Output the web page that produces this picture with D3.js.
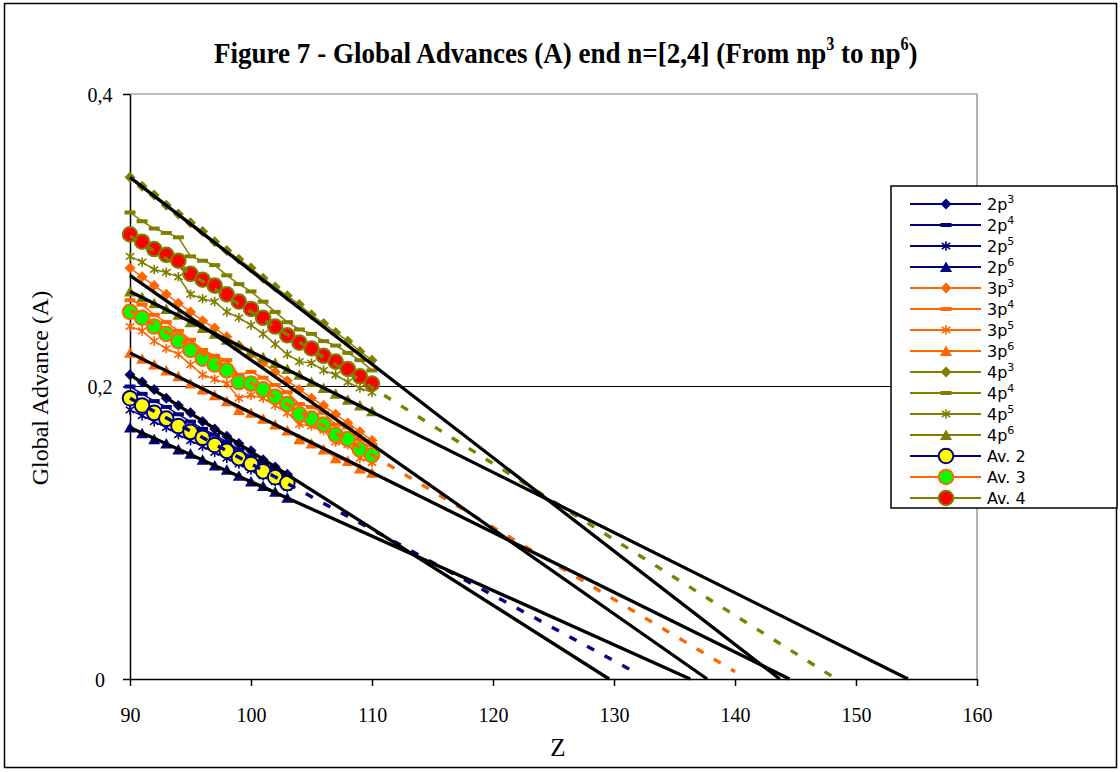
<!DOCTYPE html>
<html>
<head>
<meta charset="utf-8">
<script src="https://cdn.jsdelivr.net/npm/d3@7"></script>
<style>
  body { margin: 0; background: #fff; }
  svg { display: block; }
</style>
</head>
<body>
<svg id="chart" width="1120" height="772"></svg>
<script>
// ---- axis ticks ----
const zTicks = [90, 100, 110, 120, 130, 140, 150, 160];
const aTicks = [0, 0.2, 0.4];
const aTickLabels = ["0", "0,2", "0,4"];

// ---- Z values ----
const zN2 = [90, 91, 92, 93, 94, 95, 96, 97, 98, 99, 100, 101, 102, 103];
const zN34 = [90, 91, 92, 93, 94, 95, 96, 97, 98, 99, 100, 101, 102, 103, 104, 105, 106, 107, 108, 109, 110];

// ---- global advance, n = 2 ----
const n2p3 = [0.208, 0.203, 0.198, 0.192, 0.187, 0.182, 0.176, 0.171, 0.166, 0.161, 0.156, 0.150, 0.145, 0.140];
const n2p4 = [0.200, 0.195, 0.190, 0.186, 0.181, 0.176, 0.171, 0.167, 0.162, 0.157, 0.152, 0.148, 0.143, 0.138];
const n2p5 = [0.184, 0.180, 0.176, 0.172, 0.167, 0.163, 0.159, 0.155, 0.151, 0.147, 0.143, 0.139, 0.135, 0.131];
const n2p6 = [0.172, 0.168, 0.164, 0.161, 0.157, 0.154, 0.150, 0.146, 0.143, 0.139, 0.135, 0.132, 0.128, 0.124];
const av2  = [0.192, 0.187, 0.182, 0.178, 0.173, 0.169, 0.165, 0.160, 0.156, 0.151, 0.147, 0.142, 0.138, 0.134];

// ---- global advance, n = 3 ----
const n3p3 = [0.281, 0.275, 0.269, 0.263, 0.257, 0.251, 0.245, 0.240, 0.234, 0.228, 0.222, 0.216, 0.210, 0.204, 0.198, 0.192, 0.187, 0.181, 0.175, 0.169, 0.163];
const n3p4 = [0.259, 0.256, 0.249, 0.244, 0.238, 0.232, 0.225, 0.221, 0.218, 0.208, 0.210, 0.206, 0.201, 0.196, 0.188, 0.186, 0.182, 0.174, 0.172, 0.164, 0.160];
const n3p5 = [0.241, 0.238, 0.231, 0.226, 0.222, 0.215, 0.208, 0.205, 0.202, 0.192, 0.194, 0.192, 0.187, 0.182, 0.174, 0.173, 0.170, 0.162, 0.160, 0.151, 0.148];
const n3p6 = [0.223, 0.219, 0.215, 0.211, 0.207, 0.202, 0.198, 0.194, 0.190, 0.184, 0.182, 0.178, 0.174, 0.170, 0.164, 0.161, 0.157, 0.151, 0.149, 0.144, 0.141];
const av3  = [0.251, 0.247, 0.241, 0.236, 0.231, 0.225, 0.219, 0.215, 0.211, 0.203, 0.202, 0.198, 0.193, 0.188, 0.181, 0.178, 0.174, 0.167, 0.164, 0.157, 0.153];

// ---- global advance, n = 4 ----
const n4p3 = [0.343, 0.337, 0.331, 0.324, 0.318, 0.312, 0.306, 0.299, 0.293, 0.287, 0.281, 0.274, 0.268, 0.262, 0.256, 0.249, 0.243, 0.237, 0.231, 0.224, 0.218];
const n4p4 = [0.319, 0.313, 0.308, 0.305, 0.302, 0.289, 0.286, 0.283, 0.276, 0.270, 0.265, 0.258, 0.251, 0.244, 0.239, 0.236, 0.231, 0.228, 0.223, 0.218, 0.211];
const n4p5 = [0.289, 0.285, 0.280, 0.278, 0.275, 0.263, 0.260, 0.258, 0.251, 0.247, 0.242, 0.236, 0.229, 0.222, 0.217, 0.216, 0.211, 0.208, 0.203, 0.199, 0.196];
const n4p6 = [0.265, 0.261, 0.257, 0.253, 0.249, 0.244, 0.240, 0.236, 0.232, 0.228, 0.224, 0.220, 0.216, 0.212, 0.208, 0.203, 0.199, 0.195, 0.191, 0.187, 0.183];
const av4  = [0.304, 0.299, 0.294, 0.290, 0.286, 0.277, 0.273, 0.269, 0.263, 0.258, 0.253, 0.247, 0.241, 0.235, 0.230, 0.226, 0.221, 0.217, 0.212, 0.207, 0.202];

// ---- linear trends of the p3 / p6 series (black), value at Z=90 and Z where A reaches 0 ----
const blackTrendAt90 = [0.208, 0.172, 0.276, 0.223, 0.343, 0.265];
const blackTrendZeroZ = [129.6, 136.3, 137.7, 144.5, 143.7, 154.3];

// ---- linear trends of the averages (dashed), value at Z=90, slope and forecast end ----
const avgTrendAt90 = [0.192, 0.252, 0.303];
const avgTrendSlope = [-0.00449, -0.00494, -0.00519];
const avgTrendEndZ = [132, 140, 148];

const navy = "#000080", orange = "#FF6600", olive = "#808000";

const series = [
  { n: "2", p: "3", z: zN2, v: n2p3, color: navy, mk: "diamond" },
  { n: "2", p: "4", z: zN2, v: n2p4, color: navy, mk: "dash" },
  { n: "2", p: "5", z: zN2, v: n2p5, color: navy, mk: "star" },
  { n: "2", p: "6", z: zN2, v: n2p6, color: navy, mk: "triangle" },
  { n: "3", p: "3", z: zN34, v: n3p3, color: orange, mk: "diamond" },
  { n: "3", p: "4", z: zN34, v: n3p4, color: orange, mk: "dash" },
  { n: "3", p: "5", z: zN34, v: n3p5, color: orange, mk: "star" },
  { n: "3", p: "6", z: zN34, v: n3p6, color: orange, mk: "triangle" },
  { n: "4", p: "3", z: zN34, v: n4p3, color: olive, mk: "diamond" },
  { n: "4", p: "4", z: zN34, v: n4p4, color: olive, mk: "dash" },
  { n: "4", p: "5", z: zN34, v: n4p5, color: olive, mk: "star" },
  { n: "4", p: "6", z: zN34, v: n4p6, color: olive, mk: "triangle" },
  { label: "Av. 2", z: zN2, v: av2, color: navy, mk: "circle", fill: "#FFFF00" },
  { label: "Av. 3", z: zN34, v: av3, color: orange, mk: "circle", fill: "#00FF00" },
  { label: "Av. 4", z: zN34, v: av4, color: olive, mk: "circle", fill: "#FF0000" }
];
const avgColors = [navy, orange, olive];

// ---- scales ----
const x = d3.scaleLinear().domain([90, 160]).range([130, 977]);
const y = d3.scaleLinear().domain([0, 0.4]).range([679, 94]);

const svg = d3.select("#chart");
const serif = "'Liberation Serif', 'Times New Roman', serif";
const sans = "'DejaVu Sans', Verdana, sans-serif";

// chart border
svg.append("rect")
  .attr("x", 4.5).attr("y", 3.5).attr("width", 1112).attr("height", 764)
  .attr("fill", "#fff").attr("stroke", "#000").attr("stroke-width", 1.5);

// plot frame and gridline
const frame = svg.append("g");
frame.append("line")
  .attr("x1", x(90)).attr("x2", x(160)).attr("y1", y(0.4)).attr("y2", y(0.4))
  .attr("stroke", "#808080").attr("stroke-width", 1.2);
frame.append("line")
  .attr("x1", x(160)).attr("x2", x(160)).attr("y1", y(0.4)).attr("y2", y(0))
  .attr("stroke", "#808080").attr("stroke-width", 1.2);
frame.append("line")
  .attr("x1", x(90)).attr("x2", x(160)).attr("y1", y(0.2)).attr("y2", y(0.2))
  .attr("stroke", "#000").attr("stroke-width", 1);

// axes
const xAxis = svg.append("g")
  .attr("transform", `translate(0,${y(0)})`)
  .call(d3.axisBottom(x).tickValues(zTicks).tickSize(7).tickSizeOuter(0).tickPadding(22));
const yAxis = svg.append("g")
  .attr("transform", `translate(${x(90)},0)`)
  .call(d3.axisLeft(y).tickValues(aTicks).tickFormat((d, i) => aTickLabels[i]).tickSize(7).tickSizeOuter(0));
[xAxis, yAxis].forEach(a => {
  a.selectAll("path.domain").attr("stroke", "#000").attr("stroke-width", 1.5);
  a.selectAll(".tick line").attr("stroke", "#000").attr("stroke-width", 1.5);
  a.selectAll(".tick text").attr("font-family", serif).attr("font-size", 20).attr("fill", "#000");
});
yAxis.selectAll(".tick text").attr("text-anchor", "middle").attr("x", -30).attr("dy", "0.35em");

// markers
function drawMarker(parent, type, color, fill, cx, cy) {
  const m = parent.append("g").attr("transform", `translate(${cx},${cy})`);
  if (type === "diamond") {
    m.append("path").attr("d", "M0,-5.5L5.5,0L0,5.5L-5.5,0Z").attr("fill", color);
  } else if (type === "dash") {
    m.append("rect").attr("x", -5.5).attr("y", -2).attr("width", 11).attr("height", 4).attr("fill", color);
  } else if (type === "star") {
    m.append("path").attr("d", "M0,-4.8V4.8M-4.2,-3.2L4.2,3.2M-4.2,3.2L4.2,-3.2")
      .attr("stroke", color).attr("stroke-width", 1.6).attr("fill", "none");
  } else if (type === "triangle") {
    m.append("path").attr("d", "M0,-5.5L6,5L-6,5Z").attr("fill", color);
  } else if (type === "circle") {
    m.append("circle").attr("r", 7.3).attr("fill", fill).attr("stroke", color).attr("stroke-width", 2);
  }
}

const line = d3.line().x(d => x(d[0])).y(d => y(d[1]));
const plot = svg.append("g");

series.forEach(s => {
  const pts = s.v.map((v, i) => [s.z[i], v]);
  plot.append("path").datum(pts).attr("d", line)
    .attr("fill", "none").attr("stroke", s.color).attr("stroke-width", 1.5);
  pts.forEach(p => drawMarker(plot, s.mk, s.color, s.fill, x(p[0]), y(p[1])));
});

// trendlines of the averages
avgTrendAt90.forEach((a0, i) => {
  const z1 = avgTrendEndZ[i];
  plot.append("path")
    .datum([[90, a0], [z1, a0 + avgTrendSlope[i] * (z1 - 90)]])
    .attr("d", line).attr("fill", "none")
    .attr("stroke", avgColors[i]).attr("stroke-width", 3.4)
    .attr("stroke-dasharray", "8,12");
});

// trendlines of p3 / p6 series, forecast down to A = 0
blackTrendAt90.forEach((a0, i) => {
  plot.append("path")
    .datum([[90, a0], [blackTrendZeroZ[i], 0]])
    .attr("d", line).attr("fill", "none")
    .attr("stroke", "#000").attr("stroke-width", 3.3);
});

// legend
const lg = svg.append("g");
lg.append("rect").attr("x", 891).attr("y", 186).attr("width", 226).attr("height", 322)
  .attr("fill", "#fff").attr("stroke", "#000").attr("stroke-width", 1.5);
series.forEach((s, i) => {
  const cy = 204 + i * 21;
  lg.append("line").attr("x1", 910).attr("x2", 981).attr("y1", cy).attr("y2", cy)
    .attr("stroke", s.color).attr("stroke-width", 1.8);
  drawMarker(lg, s.mk, s.color, s.fill, 946, cy);
  const t = lg.append("text").attr("x", 987).attr("y", cy + 6)
    .attr("font-family", sans).attr("font-size", 16).attr("fill", "#000");
  if (s.label) {
    t.text(s.label);
  } else {
    t.append("tspan").text(s.n + "p");
    t.append("tspan").attr("font-size", 11).attr("dy", -7).text(s.p);
  }
});

// title
const title = svg.append("text")
  .attr("font-family", serif).attr("font-weight", "bold").attr("font-size", 30).attr("fill", "#000");
title.append("tspan").text("Figure 7 - Global Advances (A) end n=[2,4] (From np");
title.append("tspan").attr("font-size", 18).attr("dy", -13).text("3");
title.append("tspan").attr("dy", 13).text(" to np");
title.append("tspan").attr("font-size", 18).attr("dy", -13).text("6");
title.append("tspan").attr("dy", 13).text(")");
const tw = title.node().getComputedTextLength();
const sx = 704 / tw;
title.attr("transform", `translate(214,63) scale(${sx},1)`);

// axis titles
svg.append("text")
  .attr("x", 558).attr("y", 756).attr("text-anchor", "middle")
  .attr("font-family", serif).attr("font-size", 25).attr("fill", "#000")
  .text("Z");
svg.append("text")
  .attr("transform", "translate(48,388) rotate(-90)").attr("text-anchor", "middle")
  .attr("font-family", serif).attr("font-size", 24).attr("fill", "#000")
  .text("Global Advance (A)");
</script>
</body>
</html>
